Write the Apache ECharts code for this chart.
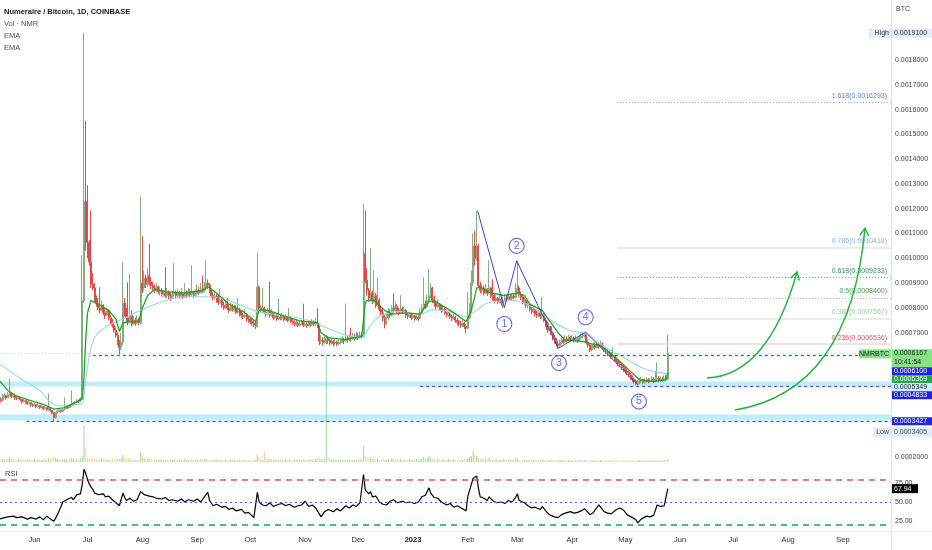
<!DOCTYPE html>
<html><head><meta charset="utf-8">
<script src="https://cdn.jsdelivr.net/npm/echarts@6/dist/echarts.min.js"></script>
<style>html,body{margin:0;padding:0;background:#fff}#c{width:932px;height:550px}</style>
</head><body><div id="c"></div>
<script>
// ---------- DATA (prices in bits: 1 bit = 0.000001 BTC) ----------
const START = Date.UTC(2022, 4, 12);   // first daily candle
const DAY = 86400000;
const firstOpen = 440;
const closes = [
430,426,442,447,438,451,455,442,447,438,
434,438,430,422,426,418,414,418,410,406,
410,402,406,398,402,394,398,390,394,386,
378,358,374,382,386,382,390,394,402,398,
406,410,414,418,426,422,434,830,1230,1064,
1025,985,895,880,830,818,800,790,810,780,
770,790,760,745,730,710,690,660,640,660,
820,780,760,745,770,735,750,740,752,740,
900,880,920,895,930,905,890,880,870,885,
865,870,855,860,850,865,850,840,855,860,
850,862,848,856,845,860,852,866,855,862,
850,858,870,862,875,868,880,900,892,870,
850,840,848,830,822,830,810,800,815,800,
790,805,792,800,782,790,775,770,765,770,
755,750,745,738,730,725,883,800,790,800,
782,775,790,770,780,760,768,755,762,758,
765,752,760,750,755,745,740,732,738,730,
735,742,730,735,728,738,732,740,735,738,
728,665,670,660,672,678,668,658,664,656,
662,655,660,665,672,668,676,670,680,675,
682,676,688,680,690,686,1020,911,870,840,
860,830,850,810,830,795,780,760,735,760,
780,770,800,790,805,790,780,795,785,790,
770,765,772,760,768,755,762,758,780,800,
815,805,830,850,880,830,820,805,815,800,
790,795,780,772,776,765,758,762,750,742,
736,730,738,725,718,760,790,900,1050,1000,
1050,890,870,880,860,875,860,880,850,845,
830,840,825,835,820,830,840,835,845,838,
848,842,870,880,855,845,825,830,810,815,
795,785,790,775,770,780,765,775,750,735,
712,725,700,680,668,655,648,660,670,662,
675,668,680,672,678,668,674,666,680,686,
690,696,660,650,630,642,650,640,652,645,
655,640,632,625,615,620,602,605,590,585,
575,570,560,555,545,540,530,520,510,505,
495,500,505,510,500,506,510,503,508,512,
505,512,515,508,512,510,515,512,616.7];
const highs = [
440,438,452,455,450,460,515,452,455,448,
442,445,440,432,434,428,424,426,418,415,
416,412,412,406,408,402,404,398,455,394,
388,380,380,388,392,390,396,440,408,406,
410,467,420,424,432,430,440,1012,1910,1554,
1295,1073,1194,940,900,850,840,883,830,815,
800,800,795,770,755,740,720,700,670,700,
984,840,800,903,939,790,765,760,770,760,
1250,1089,950,935,960,1058,925,905,895,900,
890,885,880,872,964,880,870,862,868,980,
870,875,868,880,865,900,870,880,875,972,
870,875,895,885,900,930,905,992,915,900,
880,862,870,855,850,878,840,825,830,840,
815,820,815,812,810,840,800,790,780,795,
778,765,760,755,750,745,1024,890,810,879,
805,795,800,905,795,785,780,775,838,770,
780,770,775,765,800,762,755,750,752,745,
750,752,817,748,742,750,745,755,750,760,
798,730,690,682,685,690,685,675,678,672,
675,668,672,680,688,680,817,690,695,720,
700,695,705,700,705,700,1218,1194,960,880,
1040,870,952,860,923,840,810,795,770,780,
800,795,810,859,825,815,800,851,805,805,
795,780,785,778,780,772,775,770,800,815,
923,830,855,956,900,885,850,830,835,820,
810,808,800,790,788,782,772,775,768,760,
752,748,750,745,735,863,820,950,1100,1110,
1191,1060,905,895,890,895,880,992,885,915,
855,852,845,850,840,845,855,850,856,852,
860,858,900,989,890,865,855,845,835,828,
820,805,805,798,790,792,785,842,780,760,
745,740,728,705,690,678,668,672,685,680,
690,685,692,688,690,684,688,680,692,698,
702,700,698,672,658,652,662,658,665,660,
668,660,648,640,632,630,622,640,610,600,
592,582,578,570,562,555,548,538,528,518,
512,510,518,522,515,516,520,516,518,525,
520,545,580,525,524,522,528,530,693];
const lows = [
415,418,424,436,430,436,445,435,438,428,
428,430,424,414,418,410,408,410,402,400,
402,396,398,392,394,388,390,384,386,380,
370,340.5,352,372,378,376,384,386,392,392,
396,402,406,410,416,416,420,428,820,1030,
1000,970,880,870,820,805,790,778,795,770,
755,765,750,735,720,700,680,650,612,630,
650,765,745,730,740,725,730,728,735,730,
735,860,870,880,885,890,875,870,860,865,
855,850,845,845,840,840,835,828,835,845,
838,840,838,842,835,840,840,845,843,845,
840,845,850,852,858,860,862,870,875,860,
840,830,832,820,812,815,800,792,795,790,
780,785,785,785,775,775,765,760,755,758,
745,740,735,728,722,715,720,790,780,785,
775,765,770,760,765,752,755,748,750,750,
752,745,748,742,745,738,732,725,728,722,
725,730,722,725,720,725,724,728,726,725,
718,650,655,648,655,652,655,648,652,645,
650,645,648,652,658,655,662,660,665,664,
670,668,672,670,675,676,680,900,850,825,
830,815,820,800,805,785,770,745,717,730,
750,760,765,780,785,778,770,775,775,780,
760,755,760,752,755,748,750,748,755,775,
790,795,800,820,840,820,805,795,800,790,
780,782,772,762,765,755,748,750,740,732,
726,720,722,715,697,715,755,780,890,970,
990,880,860,860,850,855,848,855,840,830,
818,825,815,818,808,799,825,826,832,828,
832,835,838,860,845,832,815,812,800,800,
785,775,778,765,760,762,755,758,742,722,
700,705,690,668,655,645,635,642,652,655,
658,660,664,665,666,660,662,658,662,672,
678,680,652,640,622,625,636,632,638,636,
640,632,622,615,605,605,595,592,582,575,
565,560,550,542,535,528,520,510,500,495,
488,487,492,496,492,494,498,495,498,500,
497,500,505,500,502,502,505,504,508];
// daily volume, thousand NMR
const volumeK = [
3,4,3,2,3,3,5,3,2,3, 2,3,2,3,2,2,3,2,3,2, 3,2,2,3,2,3,2,3,4,3, 3,5,4,3,2,3,2,3,3,2,
3,4,3,2,3,3,4,6,37,14, 5,4,3,5,3,3,2,3,4,2, 3,2,3,2,3,2,3,3,3,4, 7,4,3,4,3,2,2,3,2,3,
10,7,4,3,3,4,3,2,3,2, 2,3,2,2,3,2,2,3,2,3, 2,2,3,2,2,3,2,2,2,3, 2,2,3,2,3,2,3,3,2,2,
2,2,2,3,2,2,3,2,2,2, 2,3,2,2,2,2,3,2,2,2, 2,2,2,2,3,2,7,4,3,2, 11,5,3,3,2,2,3,2,2,3,
2,2,3,2,2,2,2,3,2,2, 2,2,3,2,2,2,3,2,3,3, 4,5,3,3,3,107,4,3,2,3, 2,2,3,2,2,3,2,2,3,2,
2,3,2,2,3,3,16,6,4,3, 5,3,3,2,3,2,3,4,3,2, 3,2,4,3,2,3,2,3,2,2, 2,2,3,2,2,2,3,2,3,4,
5,3,4,6,4,3,3,2,3,2, 2,3,2,2,3,2,2,3,2,2, 2,3,2,3,3,4,5,6,11,7, 6,5,3,3,2,3,2,4,3,2,
2,3,2,2,2,3,2,2,2,3, 2,3,4,3,2,2,2,2,2,2, 2,2,2,3,2,2,2,3,2,2, 2,2,3,2,2,2,2,2,2,2,
1.5,1.5,2,1.5,1.5,2,1.5,1.5,2,1.5, 1.5,2,1.5,1.5,2,1.5,1.5,2,1.5,1.5, 2,1.5,1.5,2,1.5,1.5,2,1.5,1.5,2,
1.5,1.5,2,1.5,1.5,2,1.5,1.5,2,1.5, 1.5,2,1.5,1.5,2,1.5,1.5,2,1.5,1.5, 2,1.5,1.5,2,1.5,1.5,2,1.5,3];
// EMA readings [day index, bits]
const emaFast = [[0,507],[5,467],[9,447],[17,428],[26,408],[31,392],[37,398],[43,418],[47,432],[48,520],[49,680],[50,780],[52,830],[56,815],[62,790],[66,755],[68,705],[70,740],[75,745],[79,745],[81,800],[84,850],[88,875],[95,865],[105,860],[115,870],[118,885],[122,865],[130,815],[138,785],[145,745],[147,790],[152,790],[160,770],[170,748],[180,740],[182,700],[186,680],[195,672],[205,685],[207,820],[208,830],[212,830],[218,790],[222,775],[230,780],[238,775],[243,825],[246,830],[255,790],[264,745],[267,790],[270,880],[272,885],[276,865],[285,850],[293,860],[297,850],[300,815],[307,790],[310,760],[316,700],[320,670],[330,665],[335,655],[340,648],[345,620],[350,590],[356,550],[362,510],[370,503],[377,510],[378,536.9]];
const emaSlow = [[0,576],[12,515],[23,467],[29,420],[34,405],[43,410],[47,415],[48,450],[50,560],[52,640],[55,690],[62,730],[70,755],[80,790],[90,820],[100,840],[110,845],[120,845],[128,835],[135,815],[146,785],[160,770],[175,750],[185,720],[196,690],[205,683],[210,730],[215,765],[225,785],[238,775],[245,792],[255,785],[264,765],[270,790],[276,820],[290,830],[295,825],[302,800],[313,745],[323,708],[332,695],[341,648],[351,608],[361,568],[369,545],[378,534.9]];
// RSI readings
const rsiDay = [0,3,5,8,10,13,16,18,21,23,25,27,29,31,33,35,36,37,39,41,42,44,46,47,48,49,50,51,52,53,54,56,57,59,60,62,63,64,66,68,70,71,72,74,76,78,80,82,83,85,87,89,92,94,96,98,101,103,105,107,110,112,114,116,118,119,121,123,126,128,130,132,134,137,139,141,144,145,146,147,149,151,153,155,158,160,162,164,167,169,171,173,175,177,179,180,182,184,186,189,191,193,196,198,200,202,204,205,206,207,209,210,211,213,215,217,219,221,223,225,228,230,232,235,237,239,241,243,244,246,248,250,253,255,257,259,262,264,265,267,268,270,271,272,274,276,277,279,281,284,286,288,290,292,293,294,297,299,301,303,306,307,309,311,314,316,318,320,323,325,327,329,331,334,336,339,340,342,344,346,349,351,353,355,358,360,361,363,366,368,370,372,374,376,377,378];
const rsiVal = [27,29,30,31,29,30,27,29,27,30,26,31,27,24,33,44,50,48,54,56,53,60,61,74,94,88,80,74,70,67,62,60,58,61,57,58,56,53,49,45,62,56,52,55,51,53,64,60,62,58,57,55,54,56,52,53,51,54,50,53,51,54,50,57,63,52,45,47,43,44,40,42,38,40,35,36,29,30,63,50,46,45,49,44,47,48,45,47,43,45,46,51,44,46,42,44,30,37,40,37,41,38,45,42,46,44,49,48,87,66,61,64,57,58,50,47,46,51,53,49,51,49,50,48,50,57,59,69,62,56,55,50,46,48,43,45,41,38,58,74,82,85,68,57,55,52,57,52,49,50,48,52,50,56,61,52,49,45,42,43,40,44,38,33,30,29,33,35,37,35,36,38,41,33,36,46,44,37,35,34,40,42,39,33,29,26,22,27,31,30,32,46,44,45,43,67.94];
// axis ticks
const monthTicks = ['2022-06-01','2022-07-01','2022-08-01','2022-09-01','2022-10-01','2022-11-01','2022-12-01','2023-01-01','2023-02-01','2023-03-01','2023-04-01','2023-05-01','2023-06-01','2023-07-01','2023-08-01','2023-09-01'];
const monthNames = ['Jan','Feb','Mar','Apr','May','Jun','Jul','Aug','Sep','Oct','Nov','Dec'];
const priceTicks = [1800,1700,1600,1500,1400,1300,1200,1100,1000,900,800,700,200];
const rsiTicks = [25,50,75];
const rsiBands = [80,50,20];
// drawings
const fibRatios = ['1.618','0.786','0.618','0.5','0.382','0.236'];
const fibValues = [1629.3,1041.9,923.3,840.0,756.7,653.6];
const fibStartDay = 349.3;
const levelValues = [610, 483.3, 342.7];
const levelStartDays = [53, 238, 15.5];
const zoneLow = [483, 345.5];
const zoneHigh = [503, 369.7];
const lastPrice = 616.7;
const waveDays = [270.5,285.6,292.6,316.1,331.6,361.3];
const waveBits = [1192,801,990,637,702,489];
const waveLabelDays = [285.6,292.6,316.5,331.6,361.7];
const waveLabelBits = [735,1050,577,762,422];
const waveLabelText = ['1','2','3','4','5'];
const arrowPaths = [ // [start, control, end] as [day, bits]
  [[400.2,517],[434.6,529],[451.1,945]],
  [[416,388],[481,465],[489.5,1122]]
];
const tagValues = [1910, 616.7, 610, 536.9, 534.9, 483.3, 342.7, 340.5];
const rsiLast = 67.94;

// ---------- BUILD ----------
const t = d => START + d * DAY;
const X_MIN = t(0.509), X_MAX = t(504.2);
const opens = closes.map((c, i) => i === 0 ? firstOpen : closes[i - 1]);
const candles = closes.map((c, i) => {
  const o = opens[i];
  return [t(i), o, c, Math.min(lows[i], o, c), Math.max(highs[i], o, c)];
});
const vol = volumeK.map((v, i) => ({
  value: [t(i), v],
  itemStyle: { color: closes[i] >= opens[i] ? 'rgba(110,205,110,0.6)' : 'rgba(240,200,110,0.65)' }
}));
const FONT = '"Liberation Sans", Arial, sans-serif';
const fibColors = ['#5b7fdc', '#7cb8e8', '#2e8b6e', '#43a047', '#9ccc9c', '#e0566a'];
const fibLineStyles = [
  { color: '#9fb3ea', type: [1, 2], width: 1 },
  { color: '#dfe5ef', type: 'solid', width: 1.5 },
  { color: '#6fb896', type: [1, 2], width: 1 },
  { color: '#9ccf9c', type: [1, 2], width: 1 },
  { color: '#e3e7e3', type: 'solid', width: 1.5 },
  { color: '#f5d5da', type: 'solid', width: 1.5 }
];
const fmt = v => (v / 1e6).toFixed(7);

const markLineData = [];
fibValues.forEach((v, i) => {
  markLineData.push([
    { coord: [t(fibStartDay), v], lineStyle: fibLineStyles[i],
      label: { show: true, position: 'insideEndTop', formatter: fibRatios[i] + '(' + fmt(v) + ')',
               color: fibColors[i], fontSize: 7, fontFamily: FONT, distance: [4, 3] } },
    { coord: [X_MAX, v] }
  ]);
});
levelValues.forEach((v, i) => {
  markLineData.push([
    { coord: [t(levelStartDays[i]), v], lineStyle: { color: '#4450e0', type: [3, 3], width: 1.2 }, label: { show: false } },
    { coord: [X_MAX, v] }
  ]);
});
markLineData.push([
  { coord: [X_MIN, lastPrice], lineStyle: { color: 'rgba(70,170,70,0.35)', type: [1, 2], width: 1 }, label: { show: false } },
  { coord: [X_MAX, lastPrice] }
]);

const xBase = (i) => ({
  type: 'value', gridIndex: i, min: X_MIN, max: X_MAX,
  axisLine: { show: false }, axisTick: { show: false }, splitLine: { show: false },
  axisLabel: { show: false }
});
const xAxes = [xBase(0), xBase(1), xBase(2)];
xAxes[2].axisLabel = {
  show: true, customValues: monthTicks.map(s => Date.parse(s + 'T00:00:00Z')),
  margin: 5, fontSize: 7.5, color: '#2a2e39', fontFamily: FONT,
  formatter: v => { const d = new Date(v); const m = d.getUTCMonth();
    return m === 0 ? '{y|' + d.getUTCFullYear() + '}' : monthNames[m]; },
  rich: { y: { fontWeight: 'bold', fontSize: 7.5, color: '#131722', fontFamily: FONT } }
};

const chart = echarts.init(document.getElementById('c'), null, { renderer: 'canvas', width: 932, height: 550 });
chart.setOption({
  animation: false,
  backgroundColor: '#ffffff',
  grid: [
    { left: 0, right: 41, top: 0, height: 463 },
    { left: 0, right: 41, top: 342, height: 120 },
    { left: 0, right: 41, top: 464, height: 67 }
  ],
  xAxis: xAxes,
  yAxis: [
    { type: 'value', gridIndex: 0, position: 'right', min: 174.3, max: 2042,
      axisLine: { show: false }, axisTick: { show: false }, splitLine: { show: false },
      axisLabel: { customValues: priceTicks, formatter: fmt, fontSize: 7, color: '#3a3e4a', fontFamily: FONT, margin: 4 } },
    { type: 'value', gridIndex: 1, min: 0, max: 120, show: false },
    { type: 'value', gridIndex: 2, position: 'right', min: 11, max: 101.1,
      axisLine: { show: false }, axisTick: { show: false }, splitLine: { show: false },
      axisLabel: { customValues: rsiTicks, formatter: v => v.toFixed(2), fontSize: 7, color: '#3a3e4a', fontFamily: FONT, margin: 4 } }
  ],
  series: [
    { type: 'candlestick', xAxisIndex: 0, yAxisIndex: 0, data: candles, barWidth: 1.5,
      itemStyle: { color: '#55ad55', color0: '#f23a3a', borderColor: '#7fae7f', borderColor0: '#e64848', borderWidth: 1 },
      markArea: { silent: true, itemStyle: { color: 'rgba(110,220,242,0.45)' },
        data: zoneLow.map((lo, i) => [{ yAxis: lo }, { yAxis: zoneHigh[i] }]) },
      markLine: { silent: true, symbol: ['none', 'none'], data: markLineData }
    },
    { type: 'line', xAxisIndex: 0, yAxisIndex: 0, data: emaSlow.map(p => [t(p[0]), p[1]]), symbol: 'none',
      smooth: 0.3, lineStyle: { color: '#9dd5ec', width: 1.1 }, z: 3 },
    { type: 'line', xAxisIndex: 0, yAxisIndex: 0, data: emaFast.map(p => [t(p[0]), p[1]]), symbol: 'none',
      lineStyle: { color: '#1ea51e', width: 1.3 }, z: 4 },
    { type: 'line', xAxisIndex: 0, yAxisIndex: 0, data: waveDays.map((d, i) => [t(d), waveBits[i]]), symbol: 'none',
      lineStyle: { color: '#3b45c8', width: 1 }, z: 5 },
    { type: 'scatter', xAxisIndex: 0, yAxisIndex: 0, symbol: 'circle', symbolSize: 15, z: 6,
      data: waveLabelDays.map((d, i) => ({ value: [t(d), waveLabelBits[i]], name: waveLabelText[i] })),
      itemStyle: { color: '#ffffff', borderColor: '#3a48d8', borderWidth: 1.1 },
      label: { show: true, position: 'inside', formatter: p => p.name, color: '#3a48d8', fontSize: 10.5, fontFamily: FONT } },
    { type: 'bar', xAxisIndex: 1, yAxisIndex: 1, data: vol, barWidth: 1.2, z: 1 },
    { type: 'line', xAxisIndex: 2, yAxisIndex: 2, data: rsiDay.map((d, i) => [t(d), rsiVal[i]]), symbol: 'none',
      lineStyle: { color: '#000000', width: 1.2 },
      markLine: { silent: true, symbol: ['none', 'none'], label: { show: false },
        data: [
          { yAxis: rsiBands[0], lineStyle: { color: '#e0506e', type: [6, 5], width: 1.5 } },
          { yAxis: rsiBands[1], lineStyle: { color: '#5a5ae6', type: [2, 3], width: 1 } },
          { yAxis: rsiBands[2], lineStyle: { color: '#14a36e', type: [6, 5], width: 1.5 } }
        ] } }
  ]
});

// ---------- overlays ----------
const g = [];
const txt = (x, y, text, fill, font, align) => ({ type: 'text', x, y, z: 100, silent: true,
  style: { text, fill, font: font || ('7px ' + FONT), align: align || 'left', verticalAlign: 'middle' } });
g.push({ type: 'line', z: 90, silent: true, shape: { x1: 891.5, y1: 0, x2: 891.5, y2: 550 }, style: { stroke: '#e0e3eb', lineWidth: 1 } });
g.push({ type: 'line', z: 90, silent: true, shape: { x1: 0, y1: 531.5, x2: 932, y2: 531.5 }, style: { stroke: '#eceef3', lineWidth: 1 } });
g.push(txt(4, 12, 'Numeraire / Bitcoin, 1D, COINBASE', '#131722', 'bold 7.5px ' + FONT));
g.push(txt(4, 24, 'Vol · NMR', '#4a4e5a', '7.5px ' + FONT));
g.push(txt(4, 36, 'EMA', '#4a4e5a', '7.5px ' + FONT));
g.push(txt(4, 48, 'EMA', '#4a4e5a', '7.5px ' + FONT));
g.push(txt(896, 9, 'BTC', '#3a3e4a'));
g.push(txt(5, 474, 'RSI', '#3a3e4a', '7.5px ' + FONT));

// arrows
arrowPaths.forEach(p => {
  const P = p.map(q => chart.convertToPixel({ xAxisIndex: 0, yAxisIndex: 0 }, [t(q[0]), q[1]]));
  g.push({ type: 'bezierCurve', z: 80, silent: true,
    shape: { x1: P[0][0], y1: P[0][1], cpx1: P[1][0], cpy1: P[1][1], x2: P[2][0], y2: P[2][1] },
    style: { stroke: '#1fb53a', lineWidth: 1.4, fill: null } });
  const dx = P[2][0] - P[1][0], dy = P[2][1] - P[1][1], L = Math.hypot(dx, dy);
  const rx = -dx / L, ry = -dy / L, len = 9, a = Math.PI / 6;
  const w = s => [P[2][0] + len * (rx * Math.cos(s * a) - ry * Math.sin(s * a)), P[2][1] + len * (rx * Math.sin(s * a) + ry * Math.cos(s * a))];
  g.push({ type: 'polyline', z: 80, silent: true, shape: { points: [w(1), P[2], w(-1)] }, style: { stroke: '#1fb53a', lineWidth: 1.4, fill: null } });
});

// price tags on the axis, stacked to avoid overlap
const tagStyles = [
  { bg: '#e3ecf7', fg: '#2a2e39', side: 'High', sideBg: '#e3ecf7', h: 9 },
  { bg: '#86e486', fg: '#131722', side: 'NMRBTC', sideBg: '#86e486', h: 18, sub: '10:41:54' },
  { bg: '#2323dd', fg: '#ffffff', h: 8 },
  { bg: '#25a843', fg: '#ffffff', h: 8 },
  { bg: '#c8eff7', fg: '#2a2e39', h: 8 },
  { bg: '#2323dd', fg: '#ffffff', h: 8 },
  { bg: '#2323dd', fg: '#ffffff', h: 8 },
  { bg: '#e3ecf7', fg: '#4a4e5a', side: 'Low', sideBg: '#e3ecf7', h: 10, gap: 2 }
];
let prevBottom = -1e9;
tagValues.forEach((v, i) => {
  const s = tagStyles[i];
  const yc = chart.convertToPixel({ yAxisIndex: 0 }, v);
  let top = Math.max(yc - 4, prevBottom + (s.gap || 0));
  prevBottom = top + s.h;
  g.push({ type: 'rect', z: 95, silent: true, shape: { x: 892, y: top, width: 40, height: s.h }, style: { fill: s.bg } });
  const ty = s.sub ? top + 4 : top + s.h / 2;
  g.push(txt(894, ty, fmt(v), s.fg));
  if (s.sub) g.push(txt(894, top + 13, s.sub, s.fg));
  if (s.side) {
    const wdt = s.side.length * 4.6 + 4;
    g.push({ type: 'rect', z: 95, silent: true, shape: { x: 891 - wdt, y: top, width: wdt, height: s.sub ? 9 : s.h }, style: { fill: s.sideBg } });
    g.push(txt(889, s.sub ? top + 4.5 : top + s.h / 2, s.side, s.fg, '7px ' + FONT, 'right'));
  }
});
const ry = chart.convertToPixel({ yAxisIndex: 2 }, rsiLast);
g.push({ type: 'rect', z: 95, silent: true, shape: { x: 892, y: ry - 4.5, width: 26, height: 9 }, style: { fill: '#000' } });
g.push(txt(894, ry, rsiLast.toFixed(2), '#ffffff'));
chart.setOption({ graphic: g });
</script></body></html>
